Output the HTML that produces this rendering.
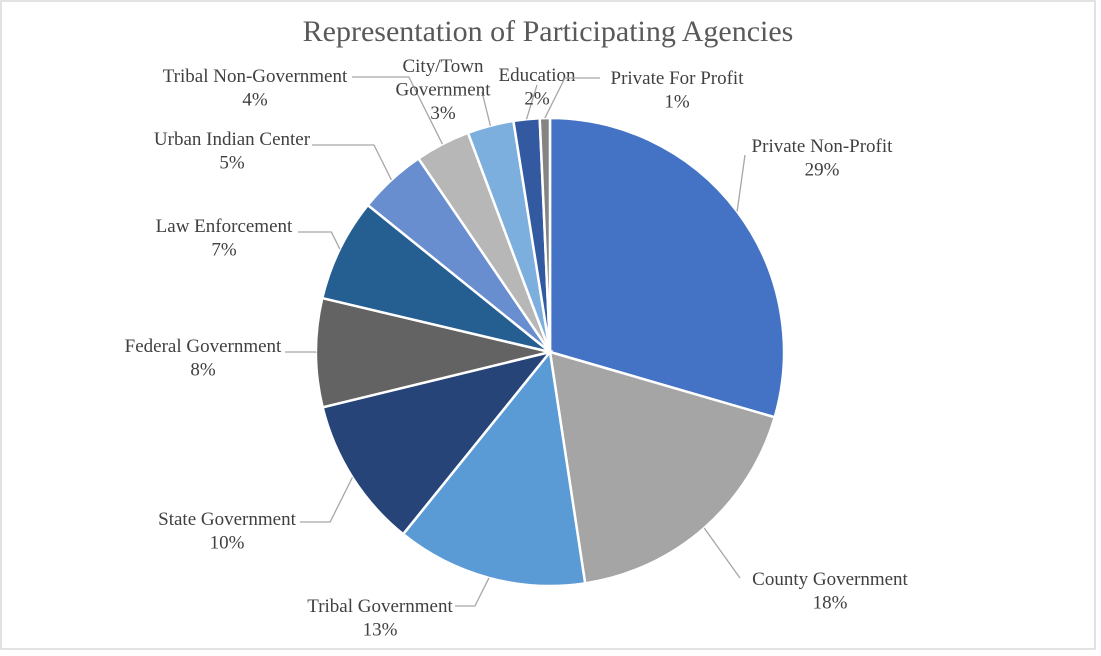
<!DOCTYPE html>
<html><head><meta charset="utf-8"><style>
html,body{margin:0;padding:0;background:#fff;}
#wrap{position:relative;width:1101px;height:656px;overflow:hidden;}
svg{position:absolute;left:0;top:0;}
text{font-family:"Liberation Serif",serif;fill:#404040;}
</style></head><body>
<div id="wrap">
<svg id="chart" width="1101" height="656">
<rect x="1" y="1" width="1094" height="648" fill="#fff" stroke="#d9d9d9" stroke-width="1.5"/>
<text x="548" y="41" text-anchor="middle" font-size="30" style="fill:#595959">Representation of Participating Agencies</text>
</svg>
</div>
<script>
const categories=["Private Non-Profit","County Government","Tribal Government","State Government","Federal Government","Law Enforcement","Urban Indian Center","Tribal Non-Government","City/Town Government","Education","Private For Profit"];
const values=[29.5,18.1,13.2,10.4,7.5,7.1,4.7,3.8,3.2,1.8,0.7];
const pctLabels=["29%","18%","13%","10%","8%","7%","5%","4%","3%","2%","1%"];
const colors=["#4472C4","#A5A5A5","#5B9BD5","#264478","#636363","#255E91","#698ED0","#B7B7B7","#7CAFDD","#335AA1","#848484"];
const labelLines=[["Private Non-Profit"],["County Government"],["Tribal Government"],["State Government"],["Federal Government"],["Law Enforcement"],["Urban Indian Center"],["Tribal Non-Government"],["City/Town","Government"],["Education"],["Private For Profit"]];
const labelPos=[[822,152],[830,585],[380,612],[227,525],[203,352],[224,232],[232,145],[255,82],[443,72],[537,81],[677,84]];
const leaderEnd=[[745,155],[740,578],[455,606],[300,522],[285,352],[298,232],[312,145],[352,77],[482,92],[537,85],[600,78]];
const svg=document.getElementById('chart');
const NS="http://www.w3.org/2000/svg";
const cx=550,cy=352,R=234;
const total=values.reduce((a,b)=>a+b,0);
function pt(a,r){return [cx+r*Math.sin(a),cy-r*Math.cos(a)];}
let acc=0;
values.forEach((v,i)=>{
  const a0=acc/total*2*Math.PI; acc+=v; const a1=acc/total*2*Math.PI;
  const p0=pt(a0,R),p1=pt(a1,R);
  const large=(a1-a0)>Math.PI?1:0;
  const path=document.createElementNS(NS,'path');
  path.setAttribute('d',`M${cx},${cy}L${p0[0]},${p0[1]}A${R},${R} 0 ${large} 1 ${p1[0]},${p1[1]}Z`);
  path.setAttribute('fill',colors[i]);path.setAttribute('stroke','#fff');path.setAttribute('stroke-width','2.5');
  
  
  svg.appendChild(path);
  const am=(a0+a1)/2; const e=pt(am,R); const le=leaderEnd[i];
  const dx=le[0]-e[0], dy=le[1]-e[1];
  let mid;
  if(Math.abs(dx)>Math.abs(dy)) mid=[e[0]+Math.sign(dx)*Math.abs(dy)*0.5,le[1]]; else mid=[le[0],le[1]];
  const pl=document.createElementNS(NS,'polyline');
  pl.setAttribute('points',`${e[0]},${e[1]} ${mid[0]},${mid[1]} ${le[0]},${le[1]}`);
  pl.setAttribute('fill','none');pl.setAttribute('stroke','#a6a6a6');pl.setAttribute('stroke-width','1.3');
  
  
  svg.appendChild(pl);
  const lines=labelLines[i].concat([pctLabels[i]]);
  const [lx,ly]=labelPos[i];
  const t=document.createElementNS(NS,'text');
  t.setAttribute('text-anchor','middle');t.setAttribute('font-size','19');
  
  
  lines.forEach((s,k)=>{const ts=document.createElementNS(NS,'tspan');ts.setAttribute('x',lx);ts.setAttribute('y',ly+k*23.5);ts.textContent=s;t.appendChild(ts);});
  svg.appendChild(t);
});
</script>
</body></html>
